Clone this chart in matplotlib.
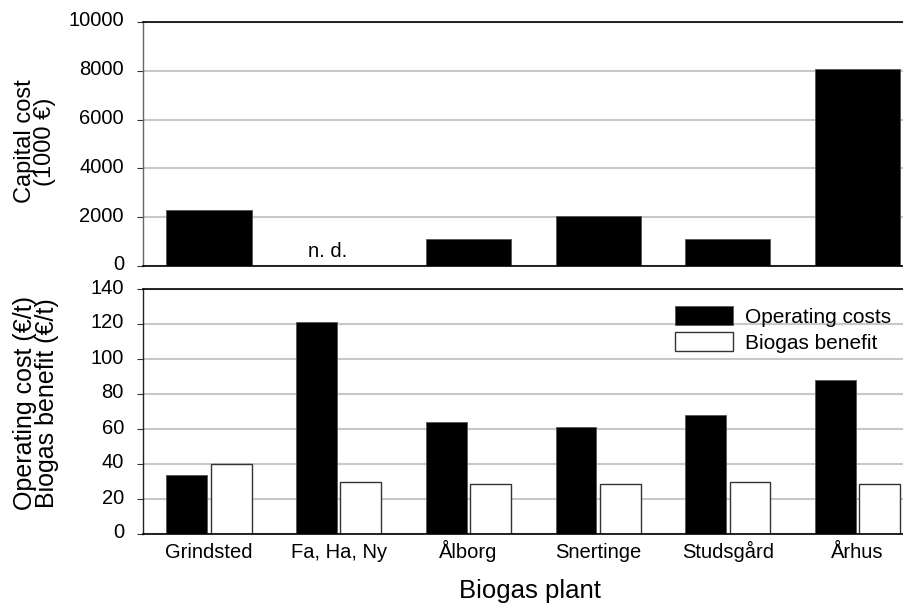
import numpy as np
import matplotlib.pyplot as plt
from matplotlib.transforms import ScaledTranslation

plt.rcParams["font.family"] = ["Liberation Sans", "DejaVu Sans"]

plants = ["Grindsted", "Fa, Ha, Ny", "Ålborg", "Snertinge", "Studsgård", "Århus"]
capital = [2300, np.nan, 1100, 2040, 1100, 8090]        # 1000 EUR, Fa/Ha/Ny not determined
operating = [34, 121, 64, 61, 68, 88]                    # EUR/t
biogas = [40, 29.5, 28.4, 28.4, 29.5, 28.4]              # EUR/t

x = np.arange(len(plants))
W, H = 904, 610
fig = plt.figure(figsize=(W / 100, H / 100), dpi=100)

def px_axes(left, top, right, bottom):
    return fig.add_axes([left / W, 1 - bottom / H, (right - left) / W, (bottom - top) / H])

ax1 = px_axes(143, 22, 904, 266)
ax2 = px_axes(143, 289, 904, 534)

grid_kw = dict(color="#c8c8c8", linewidth=1.5)
lift = ScaledTranslation(0, 3 / 100, fig.dpi_scale_trans)
for ax, spine_col in ((ax1, "#666666"), (ax2, "#222222")):
    ax.set_xlim(-0.509, 5.358)
    ax.set_axisbelow(True)
    ax.yaxis.grid(True, **grid_kw)
    ax.spines["right"].set_visible(False)
    for s in ("top", "bottom"):
        ax.spines[s].set_linewidth(1.2)
        ax.spines[s].set_color("black")
    ax.spines["left"].set_color(spine_col)
    ax.spines["left"].set_linewidth(1.0)
    ax.tick_params(axis="y", direction="out", length=4.3, width=0.8, color="#333333",
                   labelsize=14.5, pad=9.4)
    ax.tick_params(axis="x", length=0)

# capital cost
ax1.bar(x, capital, width=0.656, color="black", edgecolor="#555555", linewidth=0.6)
ax1.set_ylim(0, 10000)
ax1.set_yticks(range(0, 10001, 2000))
ax1.set_xticks([])
ax1.text(0.912, 600, "n. d.", ha="center", va="center", fontsize=14.5)
ax1.set_ylabel("Capital cost\n(1000 €)", fontsize=17, linespacing=0.9)
ax1.yaxis.set_label_coords(-0.114, 0.51)

# operating cost vs biogas benefit
ax2.bar(x - 0.171, operating, width=0.315, color="black", edgecolor="#555555",
        linewidth=0.6, label="Operating costs")
ax2.bar(x + 0.171, biogas, width=0.315, color="white", edgecolor="#333333",
        linewidth=1.0, label="Biogas benefit")
ax2.set_ylim(0, 140)
ax2.set_yticks(range(0, 141, 20))
ax2.set_xticks(x)
ax2.set_xticklabels(plants, fontsize=14.5, va="baseline")
ax2.tick_params(axis="x", pad=17.3)
ax2.set_ylabel("Operating cost (€/t)\nBiogas benefit (€/t)", fontsize=18,
               linespacing=0.9)
ax2.yaxis.set_label_coords(-0.11, 0.533)
ax2.legend(loc="upper right", bbox_to_anchor=(1.0, 0.98), frameon=False, fontsize=15,
           handlelength=2.8, handleheight=1.0, handletextpad=0.6, labelspacing=0.25,
           borderaxespad=0.2)

for ax in (ax1, ax2):
    for lab in ax.get_yticklabels():
        lab.set_transform(lab.get_transform() + lift)

fig.text(530 / W, 1 - 591 / H, "Biogas plant", ha="center", va="center", fontsize=18.5)

fig.savefig("out.png", dpi=100)
